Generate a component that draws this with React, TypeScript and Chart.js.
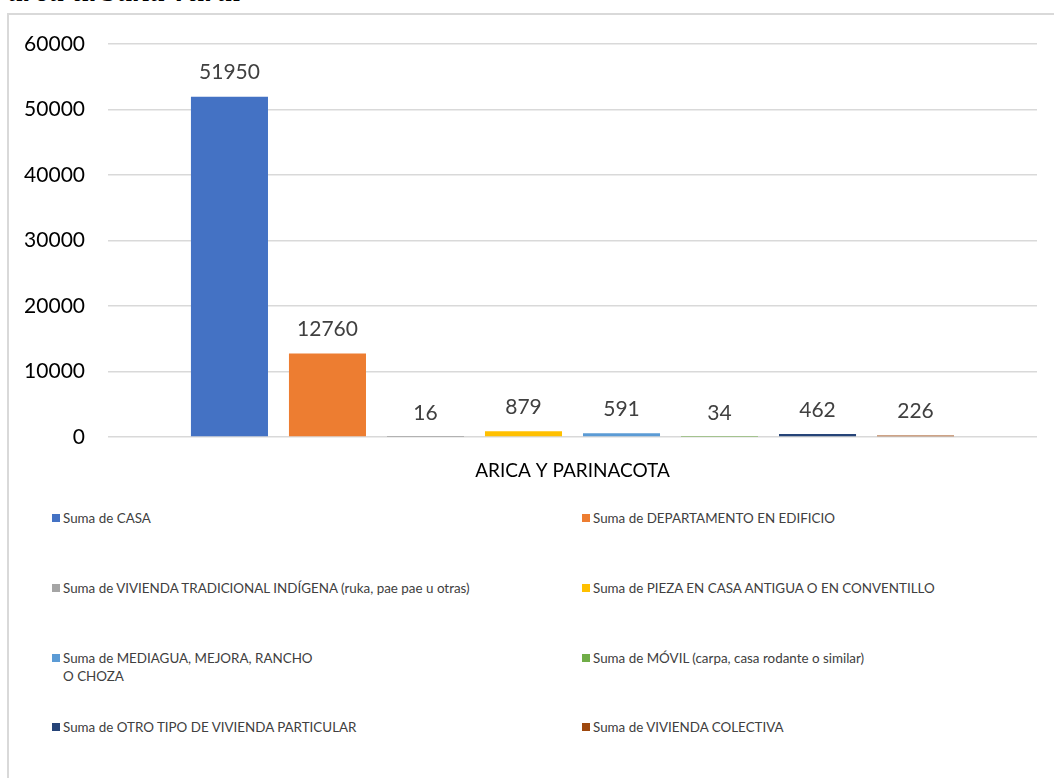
import React, { useEffect, useRef } from "react";
import { Chart, registerables } from "chart.js";

Chart.register(...registerables);

const categories = ["ARICA Y PARINACOTA"];
const seriesNames = [
  "Suma de CASA",
  "Suma de DEPARTAMENTO EN EDIFICIO",
  "Suma de VIVIENDA TRADICIONAL INDÍGENA (ruka, pae pae u otras)",
  "Suma de PIEZA EN CASA ANTIGUA O EN CONVENTILLO",
  "Suma de MEDIAGUA, MEJORA, RANCHO\nO CHOZA",
  "Suma de MÓVIL (carpa, casa rodante o similar)",
  "Suma de OTRO TIPO DE VIVIENDA PARTICULAR",
  "Suma de VIVIENDA COLECTIVA",
];
const seriesValues = [51950, 12760, 16, 879, 591, 34, 462, 226];
const seriesColors = [
  "#4472C4",
  "#ED7D31",
  "#A5A5A5",
  "#FFC000",
  "#5B9BD5",
  "#70AD47",
  "#264478",
  "#9E480E",
];
const yTicks = [0, 10000, 20000, 30000, 40000, 50000, 60000];
const titleText = "área urbana-rural";

const FONT = "Lato, 'Open Sans', sans-serif";

const valueLabels = {
  id: "valueLabels",
  afterDatasetsDraw(chart: any) {
    const ctx = chart.ctx;
    ctx.save();
    ctx.font = `21px ${FONT}`;
    ctx.fillStyle = "#404040";
    ctx.textAlign = "center";
    ctx.textBaseline = "middle";
    chart.data.datasets.forEach((ds: any, i: number) => {
      const meta = chart.getDatasetMeta(i);
      meta.data.forEach((el: any, j: number) => {
        ctx.fillText(String(ds.data[j]), el.x, el.y - 24);
      });
    });
    ctx.restore();
  },
};

export default function App() {
  const ref = useRef<HTMLCanvasElement>(null);
  useEffect(() => {
    if (!ref.current) return;
    const chart = new Chart(ref.current, {
      type: "bar",
      data: {
        labels: categories,
        datasets: seriesNames.map((name, i) => ({
          label: name,
          data: [seriesValues[i]],
          backgroundColor: seriesColors[i],
          borderWidth: 0,
          categoryPercentage: 0.844,
          barPercentage: 0.786,
        })),
      },
      options: {
        animation: false,
        responsive: false,
        maintainAspectRatio: false,
        layout: { padding: { left: 0, right: 17, top: 44, bottom: 0 } },
        plugins: {
          legend: { display: false },
          tooltip: { enabled: false },
          title: { display: false },
        },
        scales: {
          x: {
            grid: { display: false, drawTicks: false },
            border: { display: false },
            ticks: {
              font: { family: FONT, size: 19 },
              color: "#000000",
              padding: 22,
            },
            afterFit(scale: any) {
              scale.height = 66;
            },
          },
          y: {
            min: 0,
            max: 60000,
            afterBuildTicks(scale: any) {
              scale.ticks = yTicks.map((v) => ({ value: v }));
            },
            grid: { color: "#d9d9d9", lineWidth: 1.5, drawTicks: false },
            border: { display: false },
            ticks: {
              font: { family: FONT, size: 21 },
              color: "#000000",
              padding: 23,
              callback: (v: any) => String(v),
            },
            afterFit(scale: any) {
              scale.width = 108;
            },
          },
        },
      },
      plugins: [valueLabels],
    });
    return () => chart.destroy();
  }, []);

  const rowTops = [509, 579, 649, 718];

  return (
    <div
      style={{
        position: "fixed",
        left: 0,
        top: 0,
        width: 1054,
        height: 778,
        overflow: "hidden",
        background: "#ffffff",
      }}
    >
      <div
        style={{
          position: "absolute",
          left: 8,
          top: -25,
          fontFamily: "'Liberation Serif', serif",
          fontStyle: "italic",
          fontWeight: "bold",
          fontSize: 31,
          lineHeight: "31px",
          color: "#000",
          whiteSpace: "nowrap",
        }}
      >
        {titleText}
      </div>
      <div
        style={{
          position: "absolute",
          left: 7,
          top: 13,
          width: 1200,
          height: 900,
          borderLeft: "2px solid #d9d9d9",
          borderTop: "2px solid #d9d9d9",
        }}
      />
      <canvas
        ref={ref}
        width={1054}
        height={503}
        style={{ position: "absolute", left: 0, top: 0, width: 1054, height: 503 }}
      />
      {seriesNames.map((name, i) => {
        const col = i % 2;
        const row = Math.floor(i / 2);
        return (
          <div
            key={i}
            style={{
              position: "absolute",
              left: col === 0 ? 52 : 582,
              top: rowTops[row],
              display: "flex",
              alignItems: "flex-start",
              fontFamily: FONT,
              fontSize: 13.4,
              lineHeight: "18px",
              color: "#404040",
              whiteSpace: "pre-line",
            }}
          >
            <span
              style={{
                display: "inline-block",
                width: 8,
                height: 8,
                marginTop: 5,
                marginRight: 3,
                background: seriesColors[i],
                flex: "none",
              }}
            />
            <span>{name}</span>
          </div>
        );
      })}
    </div>
  );
}
